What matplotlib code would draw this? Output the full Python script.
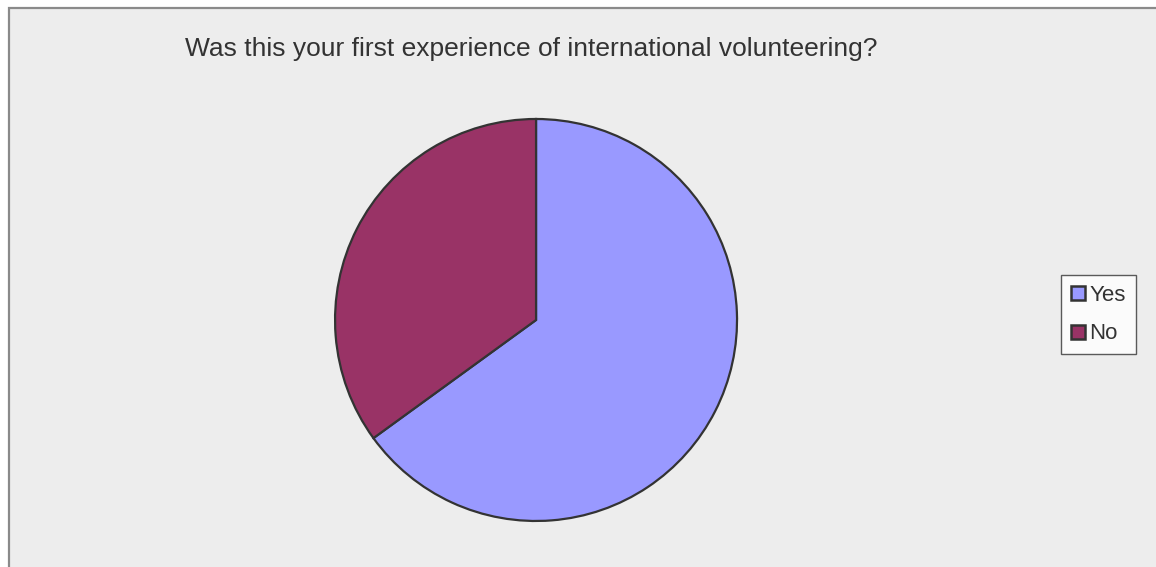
import matplotlib.pyplot as plt
from matplotlib.patches import Rectangle, Patch

labels = ['Yes', 'No']
values = [65, 35]
colors = ['#9999FF', '#993366']
title = 'Was this your first experience of international volunteering?'

plt.rcParams['font.family'] = ['Liberation Sans', 'DejaVu Sans']

fig = plt.figure(figsize=(11.56, 5.67), dpi=100)
fig.patch.set_facecolor('white')

# chart area background with frame on the top and left
W, H = 1156, 567
bg = Rectangle((8.5 / W, -0.05), 1.1, 1 - 7.5 / H + 0.05, transform=fig.transFigure,
               facecolor='#EDEDED', edgecolor='#8A8A8A', linewidth=1.6, zorder=-5)
fig.patches.append(bg)

ax = fig.add_axes([0.2907, 0.0829, 0.346, 0.7055])
ax.pie(values, colors=colors, startangle=90, counterclock=False,
       wedgeprops=dict(edgecolor='#333333', linewidth=1.6))
ax.set_xlim(-0.995, 0.995)
ax.set_ylim(-0.995, 0.995)
ax.set_axis_off()

fig.text(531 / W, 1 - 49 / H, title, ha='center', va='center',
         fontsize=19, color='#333333')

handles = [Patch(facecolor=c, edgecolor='#333333', linewidth=1.8) for c in colors]
leg = fig.legend(handles, labels, loc='center', bbox_to_anchor=(1098.5 / W, 1 - 314.5 / H),
                 frameon=True, fancybox=False, fontsize=16, handlelength=0.6,
                 handleheight=0.6, handletextpad=0.2, labelspacing=0.8,
                 borderpad=0.45, borderaxespad=0, labelcolor='#333333')
leg.get_frame().set_edgecolor('#333333')
leg.get_frame().set_linewidth(1.0)
leg.get_frame().set_facecolor('white')

fig.savefig('out.png', dpi=100)
